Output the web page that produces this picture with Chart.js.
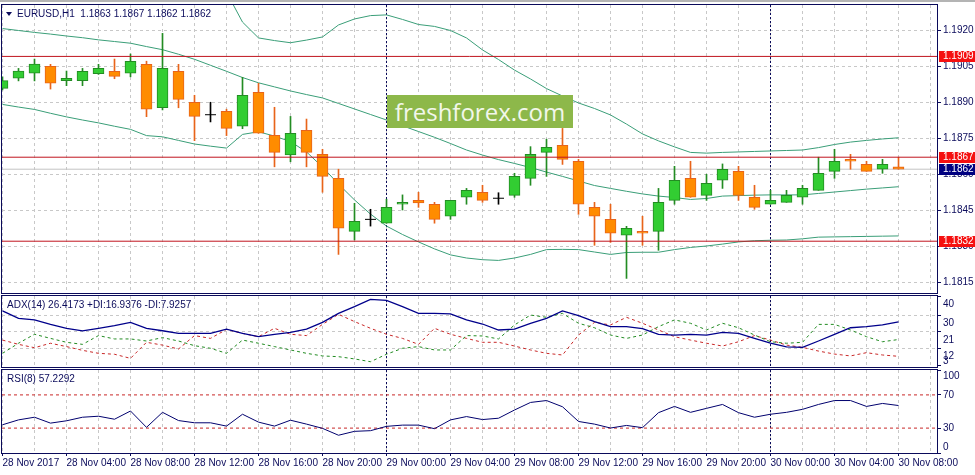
<!DOCTYPE html>
<html>
<head>
<meta charset="utf-8">
<script src="https://cdn.jsdelivr.net/npm/chart.js@4.4.1/dist/chart.umd.min.js"></script>
<style>
  html, body { margin: 0; padding: 0; background: #fff; }
  #wrap { position: relative; width: 975px; height: 475px; overflow: hidden; font-family: 'Liberation Sans', Arial, sans-serif; }
  canvas { position: absolute; left: 0; }
  #topbar { position: absolute; left: 0; top: 0; width: 975px; height: 2px; background: #b4b4b4; }
  .title { position: absolute; font-size: 10px; line-height: 12px; color: #0c0c5c; white-space: pre; }
  .tri { position: absolute; left: 6px; top: 12px; width: 0; height: 0;
         border-left: 3px solid transparent; border-right: 3px solid transparent; border-top: 4px solid #0c0c5c; }
  #wm { position: absolute; left: 387px; top: 95px; width: 186px; height: 33px; background: #8db84a;
        color: #f2f7ea; font-family: 'Open Sans', sans-serif; font-size: 24px; line-height: 33px; text-align: center; }
</style>
</head>
<body>
<div id="wrap">
  <div id="topbar"></div>
  <canvas id="main" width="975" height="294" style="top:0"></canvas>
  <canvas id="adx" width="975" height="75" style="top:294px"></canvas>
  <canvas id="rsi" width="975" height="107" style="top:368px"></canvas>
  <div class="tri"></div>
  <div class="title" style="left:17px; top:8px">EURUSD,H1  1.1863 1.1867 1.1862 1.1862</div>
  <div class="title" style="left:7px; top:299px">ADX(14) 26.4173 +DI:16.9376 -DI:7.9257</div>
  <div class="title" style="left:7px; top:373px">RSI(8) 57.2292</div>
  <div id="wm">freshforex.com</div>
</div>
<script>
/* global Chart */

// EURUSD H1, 28 Nov 00:00 .. 30 Nov 08:00
const tickLabels = [
  "28 Nov 2017", "28 Nov 04:00", "28 Nov 08:00", "28 Nov 12:00", "28 Nov 16:00",
  "28 Nov 20:00", "29 Nov 00:00", "29 Nov 04:00", "29 Nov 08:00", "29 Nov 12:00",
  "29 Nov 16:00", "29 Nov 20:00", "30 Nov 00:00", "30 Nov 04:00", "30 Nov 08:00",
];
const daySeparators = [24, 48];

const opens = [
  1.18957, 1.18999, 1.19020, 1.19049, 1.18989, 1.18989, 1.19018, 1.19028, 1.19020, 1.19057,
  1.18876, 1.19028, 1.18899, 1.18847, 1.18861, 1.18799, 1.18940, 1.18761, 1.18680, 1.18782,
  1.18682, 1.18582, 1.18361, 1.18411, 1.18395, 1.18474, 1.18490, 1.18474, 1.18424, 1.18503,
  1.18524, 1.18499, 1.18511, 1.18582, 1.18690, 1.18720, 1.18653, 1.18461, 1.18411, 1.18345,
  1.18361, 1.18361, 1.18490, 1.18582, 1.18511, 1.18574, 1.18611, 1.18503, 1.18474, 1.18482,
  1.18503, 1.18532, 1.18611, 1.18661, 1.18640, 1.18620, 1.18630,
];
const highs = [
  1.19005, 1.19040, 1.19079, 1.19057, 1.19029, 1.19040, 1.19057, 1.19079, 1.19100, 1.19070,
  1.19186, 1.19057, 1.18928, 1.18899, 1.18870, 1.19003, 1.18978, 1.18878, 1.18840, 1.18829,
  1.18703, 1.18620, 1.18478, 1.18453, 1.18495, 1.18513, 1.18524, 1.18482, 1.18490, 1.18540,
  1.18553, 1.18522, 1.18603, 1.18714, 1.18745, 1.18790, 1.18661, 1.18482, 1.18474, 1.18382,
  1.18424, 1.18540, 1.18632, 1.18653, 1.18599, 1.18642, 1.18632, 1.18553, 1.18532, 1.18532,
  1.18553, 1.18670, 1.18703, 1.18682, 1.18653, 1.18661, 1.18670,
];
const lows = [
  1.18950, 1.18988, 1.18988, 1.18954, 1.18968, 1.18968, 1.19015, 1.18997, 1.19005, 1.18839,
  1.18867, 1.18876, 1.18739, 1.18817, 1.18760, 1.18789, 1.18770, 1.18630, 1.18651, 1.18630,
  1.18524, 1.18265, 1.18325, 1.18383, 1.18395, 1.18450, 1.18461, 1.18395, 1.18411, 1.18474,
  1.18482, 1.18474, 1.18503, 1.18553, 1.18590, 1.18640, 1.18432, 1.18303, 1.18315, 1.18165,
  1.18303, 1.18282, 1.18474, 1.18503, 1.18490, 1.18540, 1.18490, 1.18453, 1.18474, 1.18482,
  1.18474, 1.18532, 1.18582, 1.18620, 1.18611, 1.18603, 1.18620,
];
const closes = [
  1.18989, 1.19029, 1.19058, 1.18978, 1.18999, 1.19028, 1.19040, 1.19007, 1.19070, 1.18870,
  1.19040, 1.18911, 1.18840, 1.18847, 1.18790, 1.18928, 1.18770, 1.18690, 1.18770, 1.18690,
  1.18590, 1.18374, 1.18403, 1.18411, 1.18461, 1.18482, 1.18480, 1.18411, 1.18490, 1.18532,
  1.18490, 1.18499, 1.18590, 1.18682, 1.18711, 1.18661, 1.18474, 1.18424, 1.18353, 1.18374,
  1.18353, 1.18482, 1.18574, 1.18503, 1.18561, 1.18620, 1.18511, 1.18461, 1.18490, 1.18511,
  1.18540, 1.18603, 1.18653, 1.18653, 1.18611, 1.18640, 1.18620,
];

// Bollinger bands
const bbUpper = [
  1.19523, 1.19517, 1.19511, 1.19513, 1.19513, 1.19510, 1.19506, 1.19505, 1.19503, 1.19502,
  1.19480, 1.19458, 1.19431, 1.19391, 1.19358, 1.19233, 1.19167, 1.19156, 1.19147, 1.19158,
  1.19171, 1.19221, 1.19246, 1.19260, 1.19263, 1.19244, 1.19223, 1.19215, 1.19198, 1.19167,
  1.19117, 1.19077, 1.19033, 1.18996, 1.18956, 1.18925, 1.18896, 1.18873, 1.18846, 1.18808,
  1.18767, 1.18738, 1.18713, 1.18690, 1.18687, 1.18690, 1.18692, 1.18694, 1.18696, 1.18698,
  1.18700, 1.18710, 1.18723, 1.18733, 1.18740, 1.18746, 1.18751,
];
const bbMiddle = [
  1.19206, 1.19198, 1.19190, 1.19183, 1.19175, 1.19168, 1.19159, 1.19152, 1.19145, 1.19131,
  1.19118, 1.19099, 1.19078, 1.19053, 1.19028, 1.19002, 1.18980, 1.18963, 1.18946, 1.18931,
  1.18917, 1.18894, 1.18871, 1.18848, 1.18825, 1.18801, 1.18777, 1.18753, 1.18727, 1.18700,
  1.18679, 1.18660, 1.18644, 1.18627, 1.18608, 1.18590, 1.18571, 1.18552, 1.18540, 1.18528,
  1.18517, 1.18508, 1.18502, 1.18494, 1.18498, 1.18508, 1.18510, 1.18512, 1.18513, 1.18513,
  1.18513, 1.18519, 1.18525, 1.18531, 1.18537, 1.18542, 1.18547,
];
const bbLower = [
  1.18890, 1.18879, 1.18869, 1.18853, 1.18838, 1.18825, 1.18813, 1.18799, 1.18786, 1.18760,
  1.18755, 1.18740, 1.18725, 1.18716, 1.18708, 1.18765, 1.18776, 1.18758, 1.18735, 1.18692,
  1.18629, 1.18558, 1.18492, 1.18433, 1.18383, 1.18348, 1.18317, 1.18288, 1.18263, 1.18250,
  1.18243, 1.18240, 1.18250, 1.18265, 1.18285, 1.18286, 1.18285, 1.18275, 1.18265, 1.18273,
  1.18274, 1.18274, 1.18285, 1.18294, 1.18300, 1.18308, 1.18317, 1.18322, 1.18324, 1.18325,
  1.18330, 1.18337, 1.18338, 1.18339, 1.18340, 1.18341, 1.18342,
];

const adx = [
  32.2, 28.2, 27.4, 25.0, 22.9, 21.5, 22.9, 24.3, 26.1, 22.9,
  21.6, 20.2, 20.2, 20.2, 22.5, 20.2, 18.4, 19.7, 20.7, 22.5,
  26.1, 30.9, 34.5, 38.4, 37.9, 34.5, 30.9, 30.9, 30.6, 27.4,
  25.2, 22.0, 22.5, 25.6, 28.2, 32.2, 29.7, 26.5, 23.8, 23.8,
  22.7, 19.7, 19.3, 19.7, 19.3, 20.7, 20.2, 17.5, 14.9, 12.9,
  12.7, 16.1, 19.7, 23.2, 23.8, 24.7, 26.4,
];
const plusDI = [
  9.5, 14.9, 19.7, 17.5, 15.4, 14.3, 19.0, 17.2, 17.2, 16.1,
  17.9, 16.1, 13.6, 12.2, 9.5, 16.6, 14.9, 13.1, 11.3, 9.5,
  8.1, 7.7, 6.5, 5.0, 9.0, 12.2, 13.1, 11.3, 11.3, 19.0,
  18.8, 17.2, 24.7, 30.0, 28.8, 30.9, 25.6, 23.2, 19.3, 17.5,
  19.3, 23.8, 27.4, 25.6, 22.0, 25.6, 23.2, 19.3, 15.7, 14.9,
  15.4, 25.0, 25.0, 22.0, 18.4, 15.7, 16.9,
];
const minusDI = [
  16.6, 14.3, 12.5, 14.9, 13.1, 11.1, 9.5, 9.0, 6.8, 15.4,
  13.9, 11.8, 19.0, 17.5, 22.3, 20.2, 18.4, 22.9, 19.7, 19.0,
  25.0, 30.4, 26.5, 22.9, 19.7, 17.5, 14.3, 22.9, 19.7, 17.5,
  15.4, 15.4, 13.4, 11.3, 9.5, 8.6, 19.3, 26.1, 24.7, 28.8,
  25.6, 22.0, 18.4, 16.6, 14.9, 13.4, 15.7, 19.0, 16.6, 13.9,
  12.7, 10.7, 9.1, 8.1, 9.85, 8.6, 7.9,
];
const rsi = [
  34.0, 39.9, 43.1, 36.0, 38.8, 43.1, 44.3, 40.7, 50.6, 30.9,
  49.0, 39.1, 36.4, 36.4, 32.4, 46.7, 37.2, 32.4, 39.5, 34.8,
  29.7, 21.4, 26.1, 26.9, 32.1, 33.6, 33.6, 29.3, 39.9, 43.9,
  40.3, 41.9, 51.8, 60.9, 63.2, 55.7, 38.0, 34.8, 30.1, 33.2,
  30.5, 48.6, 56.1, 49.0, 53.8, 58.5, 48.6, 43.1, 46.7, 49.0,
  52.6, 58.5, 63.2, 63.2, 56.1, 59.7, 57.2,
];

const levelPrices = [1.1909, 1.1867, 1.1832];
const bidPrice = 1.1862;
const rsiLevels = [70, 30];
const priceTicks = [1.1815, 1.1830, 1.1845, 1.1860, 1.1875, 1.1890, 1.1905, 1.1920];
const adxTicks = [40, 30, 21, 12, 3];
const rsiTicks = [100, 70, 30, 0];

// ---- styling ----
const GRID = "#c8c8c8";
const TEXT = "#0c0c5c";
const FRAME = "#0a0a5a";
const FONT = "10px 'Liberation Sans', Arial, sans-serif";
const BULL_FILL = "#32cd32", BULL_LINE = "#238c23";
const BEAR_FILL = "#ff8c00", BEAR_LINE = "#e8641a";
const BAND = "#3a9e78";
const LEVEL = "#c0141e";
const X_MIN = -0.03125, X_MAX = 58.40625; // 16 px per bar

Chart.defaults.font.family = "'Liberation Sans', Arial, sans-serif";
Chart.defaults.font.size = 10;

const idx = opens.map((_, i) => i);
const isDoji = (i) => opens[i] === closes[i];
const isBull = (i) => closes[i] > opens[i];
const wickColor = (i) => (isDoji(i) ? "#000" : isBull(i) ? BULL_LINE : BEAR_LINE);
const series = (arr) => arr.map((v, i) => ({ x: i, y: v }));
const hline = (v) => [{ x: X_MIN, y: v }, { x: X_MAX, y: v }];
const line = (data, color, extra) =>
  Object.assign({ type: "line", data, borderColor: color, borderWidth: 1, pointRadius: 0, pointHoverRadius: 0, tension: 0, fill: false }, extra);

const decor = {
  id: "decor",
  beforeDatasetsDraw(chart) {
    const { ctx, chartArea: a, scales } = chart;
    ctx.save();
    ctx.strokeStyle = FRAME;
    ctx.lineWidth = 1;
    ctx.setLineDash([2, 2]);
    daySeparators.forEach((i) => {
      const px = Math.round(scales.x.getPixelForValue(i) - 0.5) + 0.5;
      ctx.beginPath();
      ctx.moveTo(px, a.top);
      ctx.lineTo(px, a.bottom);
      ctx.stroke();
    });
    ctx.restore();
  },
  afterDraw(chart, args, o) {
    const { ctx, chartArea: a } = chart;
    const ys = chart.scales.y;
    ctx.save();
    ctx.strokeStyle = FRAME;
    ctx.lineWidth = 1;
    ctx.strokeRect(a.left - 0.5, a.top - 0.5, a.right - a.left + 1, a.bottom - a.top + 1);
    ctx.font = FONT;
    ctx.textAlign = "left";
    ctx.textBaseline = "middle";
    ctx.fillStyle = TEXT;
    (o.labels || []).forEach((v) => {
      let py = ys.getPixelForValue(v) + o.shift;
      py = Math.min(Math.max(py, a.top + 6), a.bottom - 6);
      ctx.fillText(o.digits ? v.toFixed(o.digits) : String(v), a.right + 6, py);
    });
    (o.tags || []).forEach((t) => {
      const py = Math.round(ys.getPixelForValue(t.value));
      ctx.fillStyle = t.color;
      ctx.fillRect(a.right + 2, py - 5, chart.width - a.right - 2, 11);
      ctx.fillStyle = "#fff";
      ctx.fillText(t.value.toFixed(4), a.right + 6, py + 0.5);
    });
    ctx.restore();
  },
};

function xAxis(withLabels) {
  return {
    type: "linear",
    min: X_MIN,
    max: X_MAX,
    offset: false,
    afterBuildTicks(s) {
      s.ticks = [];
      for (let v = 0; v <= 58; v += 2) s.ticks.push({ value: v });
    },
    afterFit(s) { s.height = withLabels ? 22 : 0; },
    grid: {
      offset: false,
      color: GRID,
      drawTicks: withLabels,
      tickLength: 3,
      tickColor: (c) => (c.tick && c.tick.value % 4 === 0 ? FRAME : "rgba(0,0,0,0)"),
      tickBorderDash: [],
    },
    border: { display: false, dash: [3, 3] },
    ticks: {
      display: withLabels,
      autoSkip: false,
      maxRotation: 0,
      align: "start",
      padding: 1,
      color: TEXT,
      callback: (v) => (v % 4 === 0 ? tickLabels[v / 4] : ""),
    },
  };
}

function yAxis(min, max, ticks, gridColor) {
  return {
    position: "right",
    min,
    max,
    afterBuildTicks(s) { s.ticks = ticks.map((v) => ({ value: v })); },
    afterFit(s) { s.width = 38; },
    grid: { color: gridColor, tickLength: 4, tickColor: FRAME, tickBorderDash: [] },
    border: { display: false, dash: [3, 3] },
    ticks: { display: false },
  };
}

function baseOptions(x, y, padding, decorOpts) {
  return {
    responsive: false,
    animation: false,
    devicePixelRatio: 1,
    events: [],
    layout: { padding, autoPadding: false },
    scales: { x, y },
    plugins: { legend: { display: false }, tooltip: { enabled: false }, decor: decorOpts },
  };
}

// ---- price panel ----
const bodies = idx.filter((i) => !isDoji(i));
new Chart(document.getElementById("main"), {
  type: "bar",
  data: {
    datasets: [
      ...levelPrices.map((p) => line(hline(p), LEVEL, { order: 0 })),
      {
        type: "bar",
        data: bodies.map((i) => ({ x: i, y: [opens[i], closes[i]] })),
        backgroundColor: bodies.map((i) => (isBull(i) ? BULL_FILL : BEAR_FILL)),
        borderColor: bodies.map((i) => (isBull(i) ? BULL_LINE : BEAR_LINE)),
        borderWidth: 1,
        borderSkipped: false,
        barThickness: 11,
        grouped: false,
        order: 1,
      },
      line(idx.filter(isDoji).map((i) => ({ x: i, y: opens[i] })), "#000", {
        showLine: false, pointStyle: "line", pointRadius: 5.5,
        pointBorderColor: "#000", pointBorderWidth: 1, order: 1,
      }),
      {
        type: "bar",
        data: idx.map((i) => ({ x: i, y: [lows[i], highs[i]] })),
        backgroundColor: idx.map(wickColor),
        borderWidth: 0,
        barThickness: 1,
        grouped: false,
        order: 2,
      },
      line(series(bbUpper), BAND, { order: 3 }),
      line(series(bbMiddle), BAND, { order: 3 }),
      line(series(bbLower), BAND, { order: 3 }),
      line(hline(bidPrice), "#c4c4c4", { order: 4 }),
    ],
  },
  options: baseOptions(
    xAxis(false),
    yAxis(1.181042, 1.193042, priceTicks, GRID),
    { top: 5, left: 2, right: 0, bottom: 1 },
    {
      labels: priceTicks, shift: 0, digits: 4,
      tags: [
        ...levelPrices.map((p) => ({ value: p, color: "#f51010" })),
        { value: bidPrice, color: "#000080" },
      ],
    }
  ),
  plugins: [decor],
});

// ---- ADX panel ----
new Chart(document.getElementById("adx"), {
  type: "line",
  data: {
    datasets: [
      line(series(adx), "#00008b", { borderWidth: 1.3, order: 0 }),
      line(series(plusDI), "#228b22", { borderDash: [3, 3], order: 1 }),
      line(series(minusDI), "#c82828", { borderDash: [3, 3], order: 2 }),
    ],
  },
  options: baseOptions(
    xAxis(false),
    yAxis(2.17, 40.21, adxTicks, (c) => (c.tick && c.tick.value < 40 && c.tick.value > 3 ? GRID : "rgba(0,0,0,0)")),
    { top: 2, left: 2, right: 0, bottom: 2 },
    { labels: adxTicks, shift: 8, digits: 0 }
  ),
  plugins: [decor],
});

// ---- RSI panel ----
new Chart(document.getElementById("rsi"), {
  type: "line",
  data: {
    datasets: [
      line(series(rsi), "#00006e", { order: 0 }),
      ...rsiLevels.map((v) => line(hline(v), "#c82828", { borderDash: [3, 3], order: 1 })),
    ],
  },
  options: baseOptions(
    xAxis(true),
    yAxis(0, 100, rsiTicks, "rgba(0,0,0,0)"),
    { top: 2, left: 2, right: 0, bottom: 0 },
    { labels: rsiTicks, shift: 0, digits: 0 }
  ),
  plugins: [decor],
});
</script>
</body>
</html>
